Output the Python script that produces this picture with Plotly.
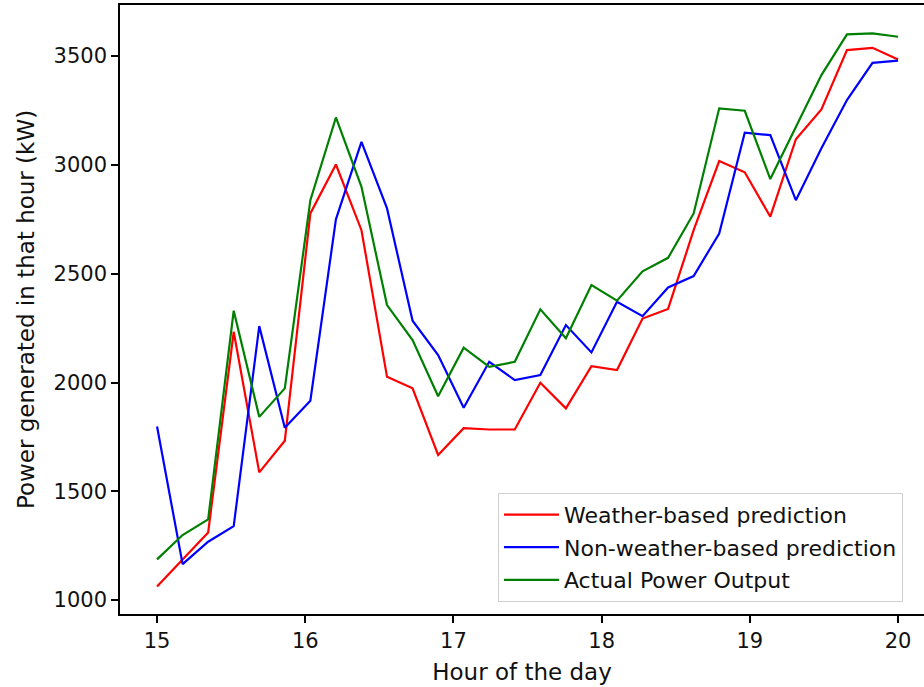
import numpy as np
import plotly.graph_objects as go

hours = list(np.linspace(15, 20, 30))

weather_pred = [1062, 1185, 1311, 2233, 1587, 1732, 2777, 3002, 2700, 2026,
                1973, 1667, 1790, 1784, 1784, 1999, 1881, 2075, 2057, 2294,
                2338, 2700, 3018, 2966, 2762, 3118, 3255, 3528, 3538, 3485]
nonweather_pred = [1798, 1165, 1268, 1340, 2259, 1792, 1916, 2750, 3106, 2800,
                   2284, 2126, 1884, 2095, 2011, 2034, 2264, 2138, 2371, 2305,
                   2437, 2489, 2685, 3148, 3137, 2838, 3077, 3298, 3469, 3479]
actual = [1187, 1299, 1371, 2330, 1842, 1973, 2838, 3218, 2899, 2356,
          2195, 1937, 2160, 2072, 2095, 2336, 2203, 2448, 2376, 2511,
          2573, 2777, 3260, 3249, 2935, 3178, 3413, 3600, 3605, 3589]

x_ticks = [15, 16, 17, 18, 19, 20]
y_ticks = [1000, 1500, 2000, 2500, 3000, 3500]

series = [
    ("Weather-based prediction", weather_pred, "#ff0000"),
    ("Non-weather-based prediction", nonweather_pred, "#0000ff"),
    ("Actual Power Output", actual, "#008000"),
]

FONT = "DejaVu Sans"
TXT = "#111111"

fig = go.Figure()
for i, (name, vals, col) in enumerate(series):
    fig.add_trace(go.Scatter(
        x=hours, y=vals, mode="lines", name=name,
        line=dict(color=col, width=2.2),
        legendgroup=f"g{i}",
    ))

fig.update_layout(
    width=924, height=687,
    margin=dict(l=120, r=0, t=5, b=73),
    paper_bgcolor="white", plot_bgcolor="white",
    font=dict(family=FONT, size=21, color=TXT),
    showlegend=True,
    legend=dict(
        x=0.4701, y=0.02, xanchor="left", yanchor="bottom",
        bgcolor="white", bordercolor="#d0d0d0", borderwidth=1,
        font=dict(family=FONT, size=22, color=TXT),
        traceorder="grouped", tracegroupgap=1,
        itemwidth=55,
    ),
)

fig.update_xaxes(
    range=[14.75, 20.175],
    tickmode="array", tickvals=x_ticks,
    ticktext=[str(v) for v in x_ticks],
    tickfont=dict(family=FONT, size=21, color=TXT),
    showgrid=False, zeroline=False,
    showline=True, linecolor="black", linewidth=1.5, mirror=True,
    ticks="outside", ticklen=7, tickwidth=1.5, tickcolor="black",
    title=dict(text="Hour of the day", font=dict(family=FONT, size=23, color=TXT), standoff=12),
)
fig.update_yaxes(
    range=[936, 3735],
    tickmode="array", tickvals=y_ticks,
    ticktext=[str(v) for v in y_ticks],
    tickfont=dict(family=FONT, size=21, color=TXT),
    showgrid=False, zeroline=False,
    showline=True, linecolor="black", linewidth=1.5,
    ticks="outside", ticklen=7, tickwidth=1.5, tickcolor="black",
    title=dict(text="Power generated in that hour (kW)", font=dict(family=FONT, size=23, color=TXT), standoff=13),
)

fig.write_html(
    "out.html",
    config={"displayModeBar": False},
    post_script="document.body.style.margin='0';document.body.style.overflow='hidden';",
)
